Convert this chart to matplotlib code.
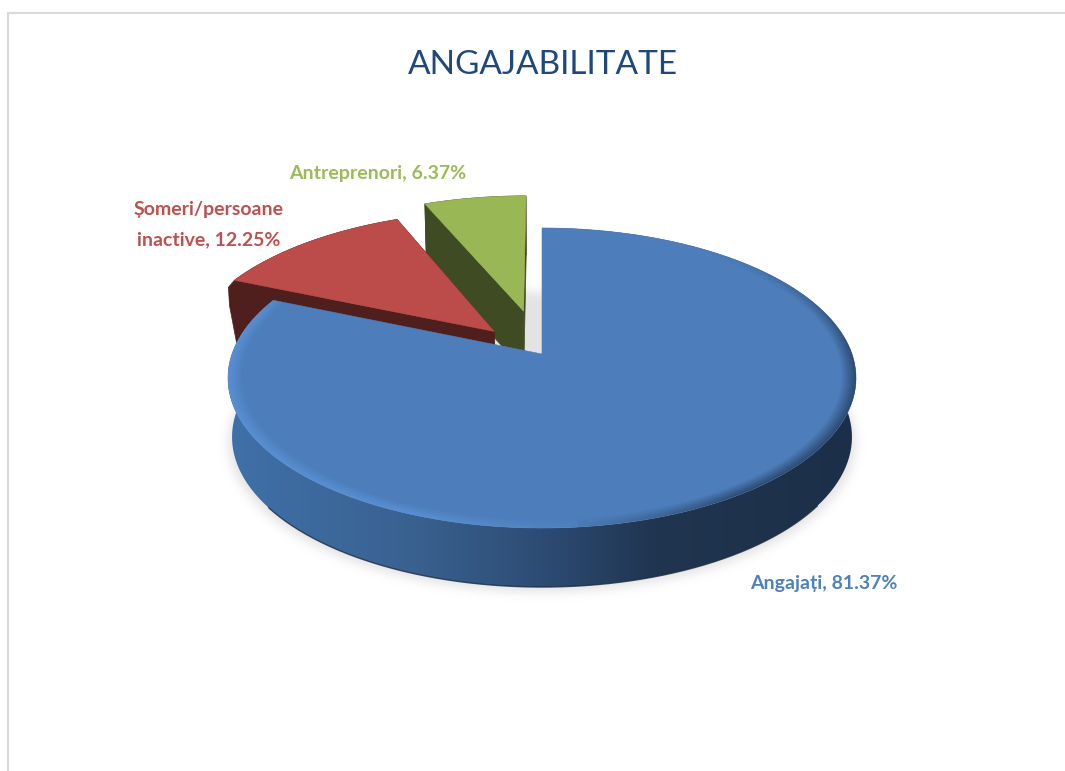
import numpy as np
import matplotlib
matplotlib.use('Agg')
import matplotlib.pyplot as plt
from matplotlib.colors import LinearSegmentedColormap
from matplotlib.patches import Polygon
from matplotlib.path import Path

title = 'ANGAJABILITATE'
categories = ['Angajați', 'Șomeri/persoane\ninactive', 'Antreprenori']
shares = [81.37, 12.25, 6.37]
explode = [0.0, 0.224, 0.314]

top_colors = ['#4d7ebb', '#bc4c49', '#99b855']
wall_colors = ['#1f3552', '#4f1f1e', '#3f4b22']
text_colors = ['#4f81bd', '#c0504d', '#9bbb59']
label_pos = [(824, 583), (209, 225), (378, 173)]

W, H = 1065, 771
CX, CY = 542, 354        # where the pie centre lands on the picture
A, B, K = 146.2, 310, 0.16   # tilt and perspective of the pie plane
DEPTH = 59


def project(u, v):                     # pie plane -> picture pixels
    w = 1 + K * v
    return CX + B * u / w, CY - A * v / w


def rim(start, end, off_u, off_v, n=160):
    t = np.radians(np.linspace(start, end, n))
    return project(off_u + np.sin(t), off_v + np.cos(t))


def lower(x, y):                       # same points on the bottom face
    return CX + (x - CX) * 0.987, y + DEPTH


def blur(a, sigma):
    fy = np.fft.fftfreq(a.shape[0])[:, None]
    fx = np.fft.rfftfreq(a.shape[1])[None, :]
    g = np.exp(-2 * (np.pi * sigma) ** 2 * (fx ** 2 + fy ** 2))
    return np.fft.irfft2(np.fft.rfft2(a) * g, s=a.shape)


fig = plt.figure(figsize=(W / 100, H / 100), dpi=100)
ax = fig.add_axes([0, 0, 1, 1])
ax.set_axis_off()

# slice angles, clockwise from 12 o'clock
ends = np.cumsum(shares) / np.sum(shares) * 360
starts = np.concatenate([[0], ends[:-1]])
mids = (starts + ends) / 2
off_u = np.array(explode) * np.sin(np.radians(mids))
off_v = np.array(explode) * np.cos(np.radians(mids))

# soft shadow under everything, the whole disc counts so the gap gets grey too
xx, yy = np.meshgrid(np.arange(W) + 0.5, np.arange(H) + 0.5)
pts = np.column_stack([xx.ravel(), yy.ravel()])
mask = np.zeros((H, W))
for i in range(len(shares)):
    x, y = rim(starts[i], ends[i], off_u[i], off_v[i])
    x0, y0 = project(off_u[i], off_v[i])
    bx, by = lower(np.r_[x0, x], np.r_[y0, y])
    bx = CX + (bx - CX) * 1.012
    poly = Path(np.column_stack([bx, by + 5]))
    strength = 0.45 if i == 2 else 1.0
    mask = np.maximum(mask, poly.contains_points(pts).reshape(H, W) * strength)
x, y = rim(0, 360, 0, 0)
bx, by = lower(x, y)
poly = Path(np.column_stack([CX + (bx - CX) * 1.012, by + 5]))
mask = np.maximum(mask, poly.contains_points(pts).reshape(H, W))
shadow = np.zeros((H, W, 4))
shadow[..., :3] = 0.6
shadow[..., 3] = np.clip(blur(mask, 5), 0, 1) * 0.27
ax.imshow(shadow, extent=(0, W, H, 0), aspect='auto', zorder=1)

# slices from back to front: green, red, blue
side_cmap = LinearSegmentedColormap.from_list(
    'side', [(0, '#3f70a9'), (0.28, '#3a6291'), (0.5, '#2d4c74'),
             (0.68, '#20354f'), (1, '#1c2f49')])
z = 2
for i in [2, 1, 0]:
    x, y = rim(starts[i], ends[i], off_u[i], off_v[i])
    x0, y0 = project(off_u[i], off_v[i])
    bx, by = lower(x, y)
    bx0, by0 = lower(x0, y0)

    band = np.column_stack([np.r_[x, bx[::-1]], np.r_[y, by[::-1]]])
    if i == 0:
        patch = Polygon(band, closed=True, fc='none', ec='none', zorder=z)
        ax.add_patch(patch)
        grad = np.linspace(0, 1, 400)[None, :]
        im = ax.imshow(grad, cmap=side_cmap, extent=(x.min(), x.max(), by.max(), y.min()),
                       aspect='auto', zorder=z)
        im.set_clip_path(patch)
        # only the front of the bottom edge gets the dark line
        front = np.linspace(starts[0], ends[0], len(bx))
        keep = (front > 125) & (front < 235)
        ax.plot(bx[keep], by[keep], color='#1b2c42', lw=1.0, alpha=0.8, zorder=z)
    else:
        ax.add_patch(Polygon(band, closed=True, fc=wall_colors[i], ec=wall_colors[i], lw=0.5, zorder=z))
        for j in [0, -1]:
            wall = [(x[j], y[j]), (x0, y0), (bx0, by0), (bx[j], by[j])]
            ax.add_patch(Polygon(wall, closed=True, fc=wall_colors[i], ec=wall_colors[i], lw=0.5, zorder=z))
        if i == 1:
            # rounded outer corner of the red slice
            corner = [(x[0], y[0]), (x[0] - 6, y[0] + 7), (x[0] - 5, y[0] + 25),
                      (x[0] + 2, y[0] + 62), (x[0] + 10, y[0] + 62)]
            ax.add_patch(Polygon(corner, closed=True, fc=wall_colors[i], ec=wall_colors[i], lw=0.5, zorder=z))

    top = np.column_stack([np.r_[x0, x], np.r_[y0, y]])
    top_patch = Polygon(top, closed=True, fc=top_colors[i], ec=top_colors[i], lw=0.4, zorder=z + 1)
    ax.add_patch(top_patch)

    if i == 0:
        # bevel along the rim of the big slice
        yp = CY - yy
        v = yp / (A - K * yp)
        u = (xx - CX) * (1 + K * v) / B
        r = np.hypot(u, v)
        t = np.clip((r - 0.953) / 0.047, 0, 1)
        ru, rv = u / np.maximum(r, 1e-6), v / np.maximum(r, 1e-6)
        dark = np.clip((ru - 0.05) / 0.5, 0, 1) * np.clip((0.8 - rv) / 0.8, 0, 1) * t
        light = np.clip((0.15 - ru) / 0.5, 0, 1) * np.clip((0.75 - rv) / 0.5, 0, 1) * t
        bevel = np.zeros((H, W, 4))
        for c, light_c, dark_c in zip(range(3), (0.36, 0.58, 0.85), (0.13, 0.22, 0.34)):
            bevel[..., c] = np.where(dark > light, dark_c, light_c)
        bevel[..., 3] = np.maximum(dark * 0.75, light * 0.85)
        im = ax.imshow(bevel, extent=(0, W, H, 0), aspect='auto', zorder=z + 2)
        im.set_clip_path(top_patch)
    z += 3

# frame of the chart area
ax.plot([8, 8, W], [H, 13, 13], color='#d9d9d9', lw=1.5, zorder=1, solid_joinstyle='miter')

ax.text(543, 65, title, color='#1f497d', fontsize=24, family='Lato', ha='center', va='center')
for i in range(len(categories)):
    ax.text(label_pos[i][0], label_pos[i][1], f'{categories[i]}, {shares[i]:.2f}%',
            color=text_colors[i], fontsize=14, fontweight='bold', family='Lato',
            ha='center', va='center', linespacing=1.95, zorder=20)

ax.set_xlim(0, W)
ax.set_ylim(H, 0)
fig.savefig('out.png', dpi=100)
